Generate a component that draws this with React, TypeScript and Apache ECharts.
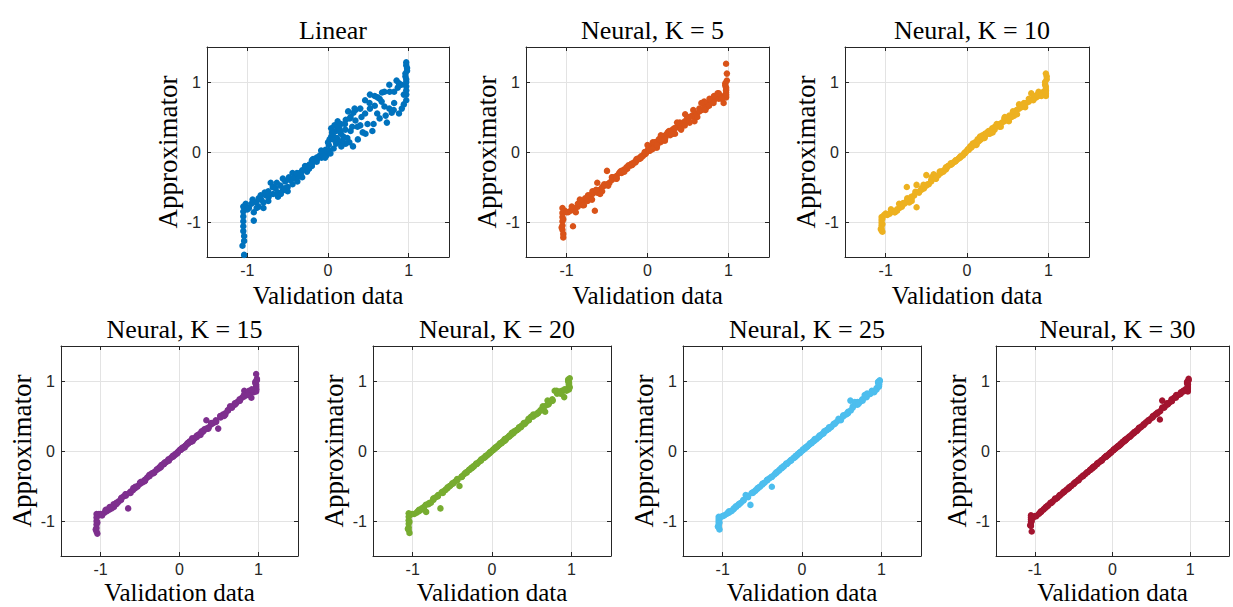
import React, { useEffect, useRef } from "react";
import * as echarts from "echarts";

// Validation inputs (shared by every panel)
const validationX = [
  -1.05, -1.05, -1.05, -1.05, -1.05, -1.05, -1.04, -1.04, -1.04, -1.06, -1.02, -1.0,
  -0.95, -0.92, -0.89, -0.86, -0.83, -0.8, -0.77, -0.74, -0.71, -0.68, -0.65, -0.62, -0.59, -0.56, -0.53, -0.5,
  -0.47, -0.44, -0.41, -0.38, -0.35, -0.32, -0.29, -0.26, -0.23, -0.2, -0.17, -0.14, -0.11, -0.08, -0.05, -0.02,
  0.01, 0.04, 0.07, 0.1, 0.13, 0.16, 0.19, 0.22, 0.25, 0.28, 0.31, 0.34, 0.37, 0.4, 0.43, 0.46, 0.49, 0.52,
  0.55, 0.58, 0.61, 0.64, 0.67, 0.7, 0.73, 0.76, 0.79, 0.82, 0.85, 0.88, 0.91, 0.94,
  -0.98, -0.92, -0.86, -0.8, -0.74, -0.68, -0.62, -0.56, -0.5, -0.44, -0.38, -0.32, -0.26, -0.2, -0.14, -0.08,
  -0.02, 0.04, 0.1, 0.16, 0.22, 0.28, 0.34, 0.4, 0.46, 0.52, 0.58, 0.64, 0.7, 0.76, 0.82, 0.88, 0.94,
  -0.25, -0.2, -0.15, -0.1, -0.06, -0.03, 0.02, 0.05, 0.08, 0.11, 0.14, 0.17,
  0.97, 0.97, 0.97, 0.97, 0.97, 0.97, 0.96, 0.96, 0.98, 0.98, 0.97, 0.97,
  -0.935, -0.885, -0.835, -0.785, -0.735, -0.685, -0.635, -0.585, -0.535, -0.485,
  -0.435, -0.385, -0.335, -0.285, -0.235, -0.185, -0.135, -0.085, -0.035, 0.015,
  0.065, 0.115, 0.165, 0.215, 0.265, 0.315, 0.365, 0.415, 0.465, 0.515,
  0.565, 0.615, 0.665, 0.715, 0.765, 0.815, 0.865, 0.915,
  0.0, 0.03, 0.06, 0.09, 0.12, 0.15, 0.18, 0.21, 0.24, 0.27, 0.3, 0.33,
];

const yLinear = [
  -0.78, -0.85, -0.92, -0.99, -1.06, -1.13, -1.2, -1.27, -1.47, -1.34, -0.74, -0.82,
  -0.74, -0.86, -0.72, -0.78, -0.68, -0.72, -0.62, -0.7, -0.44, -0.6,
  -0.52, -0.58, -0.48, -0.55, -0.42, -0.5, -0.4, -0.46, -0.33, -0.42,
  -0.3, -0.36, -0.24, -0.28, -0.18, -0.2, -0.13, -0.14, -0.06, -0.08,
  -0.02, -0.05, 0.1, 0.22, 0.05, 0.3, 0.16, 0.4, 0.22, 0.12,
  0.58, 0.3, 0.08, 0.45, 0.18, 0.62, 0.28, 0.74, 0.4, 0.62,
  0.3, 0.8, 0.55, 0.48, 0.85, 0.65, 0.42, 0.96, 0.56, 0.7,
  1.02, 0.55, 0.96, 0.68,
  -0.8, -0.98, -0.66, -0.8, -0.56, -0.5, -0.64, -0.38, -0.56, -0.3,
  -0.36, -0.26, -0.22, -0.12, -0.08, -0.04, 0.0, 0.34, 0.12, 0.26,
  0.46, 0.5, 0.6, 0.38, 0.55, 0.82, 0.66, 0.76, 0.86, 0.62,
  0.86, 0.98, 0.82,
  -0.2, -0.16, -0.1, -0.05, -0.06, 0.03, 0.18, 0.28, 0.38, 0.2, 0.34, 0.1,
  0.74, 0.82, 0.88, 0.94, 1.0, 1.04, 1.08, 1.12, 1.16, 1.2, 1.24, 1.28,
  -0.68, -0.8, -0.62, -0.58, -0.64, -0.5, -0.44, -0.6, -0.52, -0.36,
  -0.38, -0.3, -0.32, -0.2, -0.24, -0.1, -0.1, 0.02, -0.08, 0.02,
  0.18, 0.38, 0.08, 0.32, 0.14, 0.56, 0.36, 0.5, 0.26, 0.7,
  0.4, 0.78, 0.72, 0.52, 0.86, 0.6, 0.92, 0.62,
  0.14, -0.02, 0.26, 0.2, 0.44, 0.3, 0.16, 0.4, 0.2, 0.48, 0.36, 0.62,
];

const yK5 = [
  -0.8, -0.87, -0.93, -0.99, -1.05, -1.11, -1.17, -1.22, -0.96, -1.08, -0.84, -0.86,
  -0.84, -1.06, -0.8, -0.78, -0.74, -0.72, -0.66, -0.7, -0.62, -0.6,
  -0.84, -0.44, -0.54, -0.5, -0.48, -0.27, -0.44, -0.4, -0.36, -0.34,
  -0.3, -0.3, -0.25, -0.22, -0.2, -0.17, -0.15, -0.12, -0.09, -0.07,
  -0.04, 0.0, 0.05, 0.06, 0.1, 0.1, 0.16, 0.14, 0.22, 0.2,
  0.28, 0.24, 0.32, 0.26, 0.36, 0.34, 0.4, 0.44, 0.5, 0.42,
  0.52, 0.5, 0.55, 0.62, 0.6, 0.66, 0.64, 0.7, 0.72, 0.74,
  0.8, 0.76, 0.8, 0.7,
  -0.86, -0.82, -0.74, -0.76, -0.66, -0.56, -0.58, -0.56, -0.46, -0.36,
  -0.38, -0.27, -0.24, -0.19, -0.13, -0.06, -0.02, 0.04, 0.14, 0.2,
  0.24, 0.3, 0.34, 0.42, 0.38, 0.5, 0.44, 0.58, 0.72, 0.66,
  0.8, 0.84, 0.78,
  -0.24, -0.19, -0.15, -0.1, -0.06, -0.03, 0.02, 0.08, 0.06, 0.12, 0.18, 0.22,
  0.78, 0.8, 0.82, 0.85, 0.88, 0.92, 0.95, 0.98, 1.02, 1.12, 1.26, 0.9,
  -0.78, -0.86, -0.68, -0.76, -0.62, -0.68, -0.54, -0.6, -0.46, -0.48,
  -0.36, -0.38, -0.28, -0.28, -0.19, -0.18, -0.1, -0.09, 0.0, 0.04,
  0.14, 0.06, 0.24, 0.16, 0.3, 0.26, 0.42, 0.32, 0.54, 0.44,
  0.6, 0.5, 0.7, 0.6, 0.76, 0.7, 0.84, 0.76,
  0.1, 0.02, 0.04, 0.14, 0.1, 0.18, 0.16, 0.18, 0.26, 0.28, 0.26, 0.34,
];

const yK10 = [
  -0.93, -0.97, -1.01, -1.05, -1.09, -1.12, -1.14, -0.95, -1.03, -1.1, -0.9, -0.88,
  -0.88, -0.85, -0.86, -0.82, -0.8, -0.78, -0.74, -0.5, -0.72, -0.66,
  -0.62, -0.47, -0.58, -0.54, -0.52, -0.33, -0.46, -0.42, -0.32, -0.38,
  -0.33, -0.3, -0.28, -0.22, -0.2, -0.18, -0.15, -0.12, -0.1, -0.07,
  -0.05, -0.01, 0.04, 0.06, 0.12, 0.14, 0.18, 0.2, 0.24, 0.22,
  0.28, 0.3, 0.34, 0.32, 0.38, 0.4, 0.42, 0.48, 0.46, 0.52,
  0.5, 0.56, 0.6, 0.68, 0.64, 0.66, 0.7, 0.72, 0.84, 0.76,
  0.78, 0.86, 0.82, 0.86,
  -0.9, -0.84, -0.84, -0.75, -0.7, -0.7, -0.79, -0.52, -0.48, -0.4,
  -0.36, -0.28, -0.25, -0.16, -0.13, -0.06, 0.0, 0.08, 0.1, 0.22,
  0.26, 0.26, 0.36, 0.36, 0.44, 0.48, 0.52, 0.62, 0.7, 0.76,
  0.8, 0.8, 0.84,
  -0.23, -0.18, -0.14, -0.09, -0.05, -0.02, 0.03, 0.06, 0.1, 0.12, 0.15, 0.18,
  0.8, 0.83, 0.86, 0.88, 0.9, 0.93, 0.96, 1.0, 1.04, 1.08, 1.12, 0.84,
  -0.82, -0.86, -0.74, -0.73, -0.66, -0.64, -0.57, -0.56, -0.47, -0.46,
  -0.36, -0.38, -0.28, -0.26, -0.2, -0.17, -0.12, -0.08, -0.02, 0.03,
  0.1, 0.1, 0.2, 0.2, 0.3, 0.28, 0.4, 0.36, 0.5, 0.44,
  0.58, 0.54, 0.66, 0.64, 0.74, 0.74, 0.82, 0.8,
  0.02, 0.06, 0.08, 0.1, 0.12, 0.16, 0.22, 0.2, 0.26, 0.26, 0.28, 0.34,
];

const yK15 = [
  -0.9, -0.95, -1.0, -1.05, -1.1, -1.15, -1.18, -0.93, -1.02, -1.12, -0.9, -0.9,
  -0.88, -0.86, -0.84, -0.8, -0.8, -0.76, -0.72, -0.7, -0.65, -0.64,
  -0.82, -0.58, -0.56, -0.53, -0.5, -0.47, -0.45, -0.41, -0.38, -0.36,
  -0.32, -0.3, -0.27, -0.24, -0.2, -0.18, -0.16, -0.13, -0.1, -0.07,
  -0.04, -0.02, 0.02, 0.04, 0.07, 0.1, 0.14, 0.16, 0.18, 0.22,
  0.24, 0.28, 0.3, 0.44, 0.34, 0.38, 0.4, 0.44, 0.32, 0.48,
  0.52, 0.54, 0.58, 0.62, 0.64, 0.68, 0.7, 0.74, 0.76, 0.86,
  0.82, 0.82, 0.76, 0.86,
  -0.92, -0.84, -0.82, -0.74, -0.68, -0.62, -0.6, -0.51, -0.45, -0.43,
  -0.34, -0.31, -0.25, -0.19, -0.12, -0.08, -0.01, 0.05, 0.11, 0.18,
  0.2, 0.26, 0.32, 0.4, 0.42, 0.5, 0.52, 0.64, 0.66, 0.72,
  0.78, 0.86, 0.84,
  -0.23, -0.19, -0.14, -0.09, -0.06, -0.03, 0.02, 0.05, 0.08, 0.11, 0.13, 0.16,
  0.85, 0.87, 0.89, 0.91, 0.93, 0.95, 0.97, 0.99, 1.01, 1.03, 1.1, 0.88,
  -0.84, -0.8, -0.76, -0.74, -0.67, -0.62, -0.6, -0.53, -0.51, -0.44,
  -0.42, -0.35, -0.32, -0.26, -0.23, -0.16, -0.14, -0.07, -0.04, 0.02,
  0.05, 0.12, 0.14, 0.21, 0.23, 0.31, 0.32, 0.4, 0.42, 0.5,
  0.5, 0.58, 0.62, 0.68, 0.72, 0.8, 0.8, 0.88,
  0.01, 0.04, 0.06, 0.09, 0.12, 0.14, 0.17, 0.2, 0.23, 0.26, 0.28, 0.31,
];

const yK20 = [
  -0.89, -0.94, -0.99, -1.04, -1.09, -1.13, -1.17, -0.92, -1.01, -1.11, -0.9, -0.9,
  -0.88, -0.86, -0.84, -0.82, -0.87, -0.76, -0.74, -0.7, -0.66, -0.64,
  -0.82, -0.58, -0.56, -0.53, -0.5, -0.47, -0.44, -0.4, -0.5, -0.36,
  -0.33, -0.3, -0.27, -0.24, -0.22, -0.19, -0.16, -0.13, -0.1, -0.08,
  -0.05, -0.02, 0.01, 0.04, 0.07, 0.1, 0.13, 0.16, 0.19, 0.22,
  0.26, 0.27, 0.3, 0.33, 0.36, 0.4, 0.41, 0.46, 0.49, 0.5,
  0.52, 0.55, 0.58, 0.62, 0.56, 0.72, 0.7, 0.72, 0.86, 0.84,
  0.85, 0.84, 0.77, 0.88,
  -0.9, -0.84, -0.8, -0.75, -0.68, -0.63, -0.6, -0.52, -0.46, -0.42,
  -0.37, -0.31, -0.25, -0.18, -0.14, -0.07, -0.01, 0.05, 0.11, 0.17,
  0.21, 0.28, 0.34, 0.38, 0.44, 0.52, 0.54, 0.64, 0.66, 0.74,
  0.82, 0.86, 0.86,
  -0.24, -0.19, -0.14, -0.1, -0.06, -0.03, 0.02, 0.05, 0.08, 0.11, 0.14, 0.17,
  0.88, 0.9, 0.92, 0.94, 0.96, 0.98, 1.0, 1.02, 1.04, 0.91, 0.95, 0.97,
  -0.86, -0.82, -0.77, -0.74, -0.68, -0.65, -0.59, -0.55, -0.5, -0.46,
  -0.41, -0.37, -0.31, -0.27, -0.22, -0.18, -0.12, -0.08, -0.03, 0.02,
  0.06, 0.11, 0.15, 0.21, 0.25, 0.3, 0.34, 0.39, 0.44, 0.49,
  0.53, 0.58, 0.64, 0.67, 0.72, 0.86, 0.82, 0.88,
  0.0, 0.03, 0.06, 0.09, 0.11, 0.14, 0.17, 0.2, 0.23, 0.26, 0.29, 0.31,
];

const yK25 = [
  -0.94, -0.97, -1.0, -1.03, -1.06, -1.09, -1.12, -0.96, -1.02, -1.08, -0.94, -0.93,
  -0.9, -0.88, -0.86, -0.83, -0.8, -0.77, -0.74, -0.7, -0.63, -0.66,
  -0.77, -0.6, -0.57, -0.54, -0.51, -0.48, -0.45, -0.42, -0.39, -0.51,
  -0.34, -0.31, -0.28, -0.25, -0.22, -0.19, -0.16, -0.13, -0.1, -0.07,
  -0.04, -0.01, 0.02, 0.04, 0.07, 0.1, 0.13, 0.16, 0.18, 0.22,
  0.24, 0.27, 0.3, 0.32, 0.35, 0.38, 0.41, 0.46, 0.44, 0.5,
  0.52, 0.56, 0.72, 0.62, 0.66, 0.66, 0.7, 0.73, 0.8, 0.8,
  0.81, 0.84, 0.84, 0.9,
  -0.92, -0.86, -0.82, -0.76, -0.71, -0.64, -0.59, -0.53, -0.47, -0.41,
  -0.37, -0.3, -0.24, -0.18, -0.14, -0.08, -0.02, 0.05, 0.11, 0.17,
  0.21, 0.28, 0.34, 0.39, 0.44, 0.51, 0.54, 0.64, 0.7, 0.74,
  0.82, 0.86, 0.88,
  -0.24, -0.19, -0.14, -0.1, -0.06, -0.03, 0.02, 0.05, 0.08, 0.11, 0.14, 0.16,
  0.92, 0.93, 0.94, 0.95, 0.96, 0.97, 0.98, 0.99, 1.0, 1.01, 0.95, 0.97,
  -0.88, -0.85, -0.79, -0.75, -0.7, -0.65, -0.6, -0.56, -0.51, -0.46,
  -0.41, -0.37, -0.32, -0.27, -0.22, -0.18, -0.13, -0.08, -0.03, 0.02,
  0.06, 0.11, 0.16, 0.2, 0.25, 0.3, 0.34, 0.39, 0.44, 0.49,
  0.53, 0.58, 0.7, 0.68, 0.72, 0.77, 0.82, 0.86,
  0.0, 0.03, 0.06, 0.09, 0.11, 0.14, 0.17, 0.2, 0.23, 0.25, 0.29, 0.31,
];

const yK30 = [
  -0.92, -0.95, -0.98, -1.01, -1.04, -1.07, -1.15, -0.94, -1.0, -1.06, -0.95, -0.93,
  -0.9, -0.87, -0.84, -0.81, -0.78, -0.75, -0.72, -0.69, -0.67, -0.64,
  -0.61, -0.58, -0.55, -0.52, -0.5, -0.47, -0.44, -0.41, -0.38, -0.36,
  -0.33, -0.3, -0.27, -0.24, -0.22, -0.19, -0.16, -0.13, -0.1, -0.07,
  -0.05, -0.02, 0.01, 0.04, 0.07, 0.1, 0.13, 0.15, 0.18, 0.21,
  0.24, 0.26, 0.29, 0.32, 0.35, 0.38, 0.41, 0.44, 0.46, 0.49,
  0.52, 0.55, 0.45, 0.72, 0.63, 0.66, 0.69, 0.74, 0.76, 0.78,
  0.8, 0.84, 0.86, 0.86,
  -0.93, -0.86, -0.8, -0.74, -0.68, -0.63, -0.58, -0.53, -0.47, -0.42,
  -0.35, -0.3, -0.25, -0.18, -0.14, -0.08, -0.02, 0.04, 0.09, 0.16,
  0.2, 0.27, 0.33, 0.37, 0.43, 0.5, 0.54, 0.62, 0.68, 0.72,
  0.8, 0.82, 0.88,
  -0.23, -0.19, -0.14, -0.09, -0.06, -0.03, 0.02, 0.05, 0.07, 0.1, 0.13, 0.16,
  0.85, 0.87, 0.89, 0.91, 0.93, 0.95, 0.97, 0.99, 1.01, 1.03, 0.9, 0.96,
  -0.88, -0.83, -0.78, -0.74, -0.69, -0.64, -0.59, -0.55, -0.5, -0.45,
  -0.41, -0.36, -0.31, -0.27, -0.22, -0.17, -0.13, -0.08, -0.03, 0.02,
  0.06, 0.11, 0.15, 0.2, 0.25, 0.29, 0.34, 0.39, 0.43, 0.48,
  0.53, 0.57, 0.62, 0.67, 0.71, 0.76, 0.81, 0.85,
  0.0, 0.03, 0.06, 0.08, 0.11, 0.14, 0.17, 0.2, 0.22, 0.25, 0.28, 0.31,
];

const panelTitles = [
  "Linear",
  "Neural, K = 5",
  "Neural, K = 10",
  "Neural, K = 15",
  "Neural, K = 20",
  "Neural, K = 25",
  "Neural, K = 30",
];
const tickValues = [-1, 0, 1];
const axisMin = -1.5;
const axisMax = 1.5;
const xAxisName = "Validation data";
const yAxisName = "Approximator";

export default function App() {
  const ref = useRef<HTMLDivElement>(null);

  useEffect(() => {
    if (!ref.current) return;
    const chart = echarts.init(ref.current, null, { renderer: "svg" });

    const panelY = [yLinear, yK5, yK10, yK15, yK20, yK25, yK30];
    const colors = ["#0072BD", "#D95319", "#EDB120", "#7E2F8E", "#77AC30", "#4DBEEE", "#A2142F"];
    const boxes = [
      { left: 207, top: 47, width: 242, gap: 27 },
      { left: 526, top: 47, width: 243, gap: 27 },
      { left: 845, top: 47, width: 244, gap: 27 },
      { left: 61, top: 346, width: 237, gap: 25 },
      { left: 373, top: 346, width: 238, gap: 25 },
      { left: 683, top: 346, width: 238, gap: 25 },
      { left: 996, top: 346, width: 233, gap: 25 },
    ];
    const H = 210;
    const axisColor = "#262626";
    const serif = "Liberation Serif";

    const grids: any[] = [];
    const xAxes: any[] = [];
    const yAxes: any[] = [];
    const series: any[] = [];
    const titles: any[] = [];

    boxes.forEach((b, i) => {
      grids.push({
        left: b.left,
        top: b.top,
        width: b.width,
        height: H,
        containLabel: false,
        outerBoundsMode: "none",
      });
      const line = { show: true, onZero: false, lineStyle: { color: axisColor, width: 1 } };
      const tick = {
        show: true,
        inside: true,
        length: 4,
        customValues: tickValues,
        lineStyle: { color: axisColor, width: 1 },
      };
      const label = {
        show: true,
        customValues: tickValues,
        color: axisColor,
        fontFamily: "Liberation Sans",
        fontSize: 16,
        formatter: (v: number) => String(v),
      };
      const split = { show: true, lineStyle: { color: "#e3e3e3", width: 1 } };
      const nameStyle = {
        fontFamily: serif,
        fontSize: 25,
        fontWeight: "normal",
        color: "#000",
        lineHeight: 22,
      };
      xAxes.push({
        gridIndex: i,
        type: "value",
        min: axisMin,
        max: axisMax,
        position: "bottom",
        axisLine: line,
        axisTick: tick,
        axisLabel: { ...label, margin: 5 },
        splitLine: split,
        name: xAxisName,
        nameLocation: "middle",
        nameGap: b.gap,
        nameMoveOverlap: false,
        nameTextStyle: nameStyle,
      });
      xAxes.push({
        gridIndex: i,
        type: "value",
        min: axisMin,
        max: axisMax,
        position: "top",
        axisLine: line,
        axisTick: tick,
        axisLabel: { show: false },
        splitLine: { show: false },
      });
      yAxes.push({
        gridIndex: i,
        type: "value",
        min: axisMin,
        max: axisMax,
        position: "left",
        axisLine: line,
        axisTick: tick,
        axisLabel: { ...label, margin: 6 },
        splitLine: split,
        name: yAxisName,
        nameLocation: "middle",
        nameRotate: 90,
        nameGap: 28,
        nameMoveOverlap: false,
        nameTextStyle: { ...nameStyle, fontSize: 27 },
      });
      yAxes.push({
        gridIndex: i,
        type: "value",
        min: axisMin,
        max: axisMax,
        position: "right",
        axisLine: line,
        axisTick: tick,
        axisLabel: { show: false },
        splitLine: { show: false },
      });
      const ys = panelY[i];
      series.push({
        type: "scatter",
        xAxisIndex: 2 * i,
        yAxisIndex: 2 * i,
        data: validationX.map((x, j) => [x, ys[j]]),
        symbol: "circle",
        symbolSize: 6.5,
        itemStyle: { color: colors[i], opacity: 1 },
        silent: true,
      });
      titles.push({
        text: panelTitles[i],
        left: b.left + b.width / 2,
        top: b.top - 35,
        textAlign: "center",
        textStyle: { fontFamily: serif, fontSize: 26, fontWeight: "normal", color: "#000" },
      });
    });

    chart.setOption({
      animation: false,
      backgroundColor: "#ffffff",
      textStyle: { fontFamily: serif },
      title: titles,
      grid: grids,
      xAxis: xAxes,
      yAxis: yAxes,
      series,
    });

    return () => {
      chart.dispose();
    };
  }, []);

  return (
    <div
      ref={ref}
      style={{ position: "fixed", left: 0, top: 0, width: 1233, height: 607, background: "#fff" }}
    />
  );
}
